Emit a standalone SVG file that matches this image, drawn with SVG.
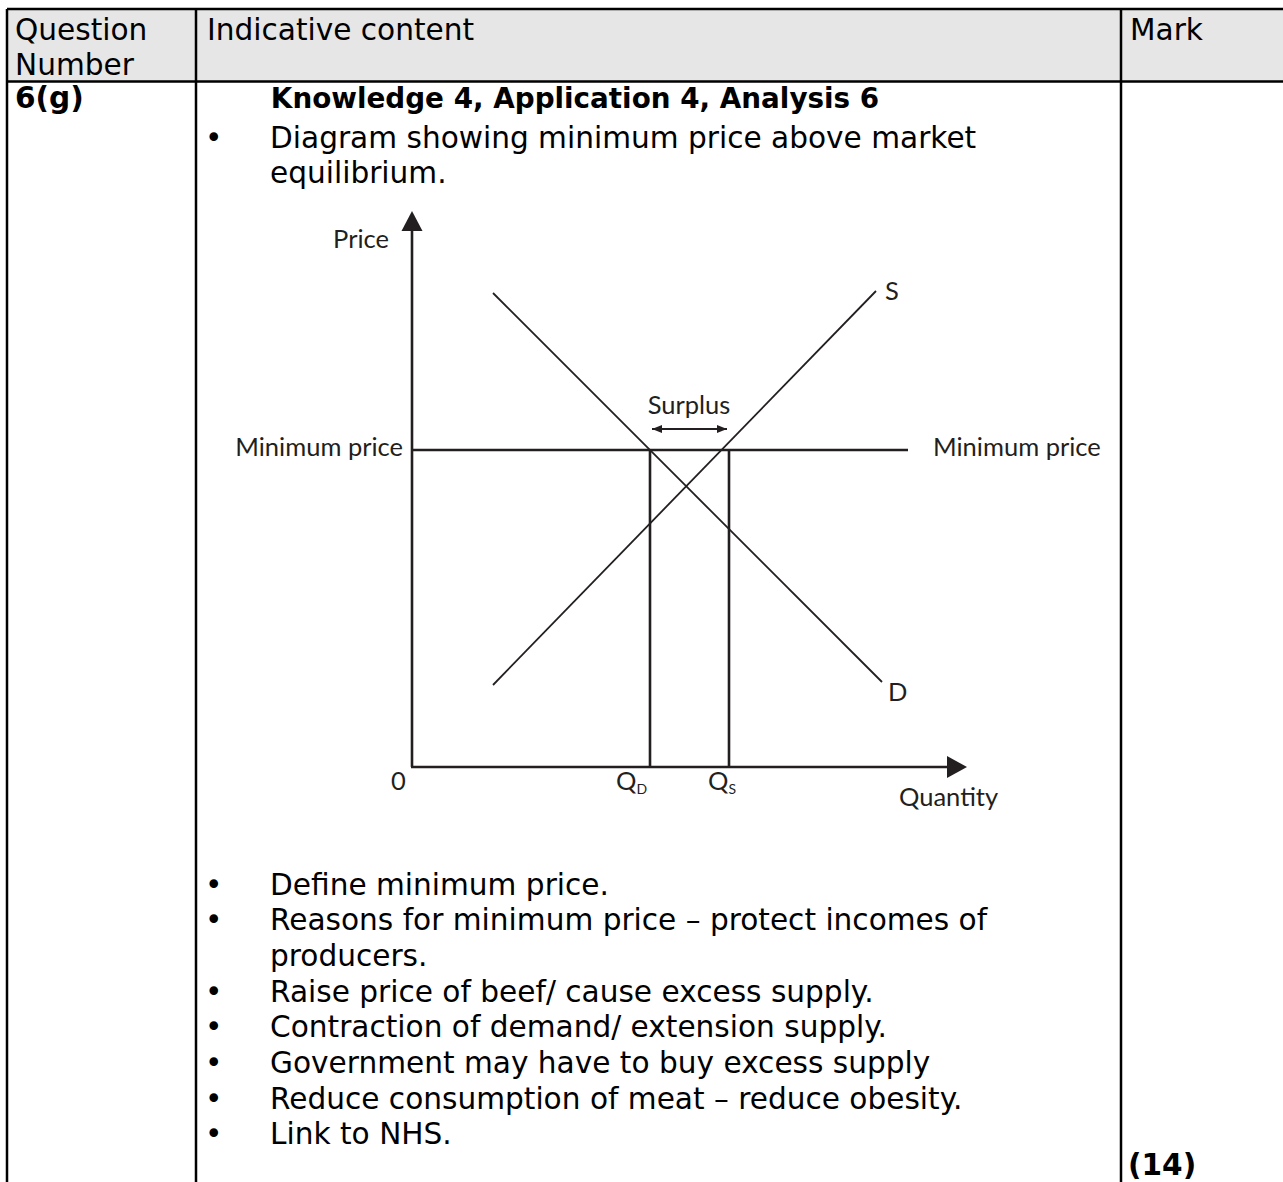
<svg xmlns="http://www.w3.org/2000/svg" width="1283" height="1182" viewBox="0 0 1283 1182">
<defs>
<style>
.t{font-family:"DejaVu Sans",Verdana,sans-serif;font-size:29.6px;fill:#000}
.b{font-weight:bold}
.c{font-family:Lato,"Open Sans",sans-serif;font-size:25.5px;fill:#231f20}
.grid{stroke:#000;stroke-width:2.5;fill:none}
.ax{stroke:#231f20;stroke-width:2.6;fill:none}
.cv{stroke:#231f20;stroke-width:1.8;fill:none}
</style>
<marker id="sa" viewBox="0 0 10 8" refX="10" refY="4" markerWidth="10" markerHeight="8" markerUnits="userSpaceOnUse" orient="auto-start-reverse">
<path d="M0,0 L10,4 L0,8 Z" fill="#231f20"/>
</marker>
</defs>
<rect width="1283" height="1182" fill="#fff"/>
<g id="table">
<rect x="7" y="9" width="1276" height="72" fill="#e6e6e6"/>
<path class="grid" d="M7,9 H1283 M7,81.5 H1283 M7,9 V1182 M196,9 V1182 M1121,9 V1182"/>
</g>
<g id="header">
<text class="t" x="15" y="40">Question</text>
<text class="t" x="15" y="75">Number</text>
<text class="t" x="207" y="40">Indicative content</text>
<text class="t" x="1130" y="40">Mark</text>
</g>
<g id="row">
<text class="t b" x="15" y="108">6(g)</text>
<text class="t b" x="575" y="108" text-anchor="middle" style="font-size:27.8px">Knowledge 4, Application 4, Analysis 6</text>
<text class="t" x="205" y="148">•</text>
<text class="t" x="270" y="148">Diagram showing minimum price above market</text>
<text class="t" x="270" y="183">equilibrium.</text>
<text class="t" x="205" y="895">•</text><text class="t" x="270" y="895">Define minimum price.</text>
<text class="t" x="205" y="930">•</text><text class="t" x="270" y="930">Reasons for minimum price – protect incomes of</text>
<text class="t" x="270" y="966">producers.</text>
<text class="t" x="205" y="1002">•</text><text class="t" x="270" y="1002">Raise price of beef/ cause excess supply.</text>
<text class="t" x="205" y="1037">•</text><text class="t" x="270" y="1037">Contraction of demand/ extension supply.</text>
<text class="t" x="205" y="1073">•</text><text class="t" x="270" y="1073">Government may have to buy excess supply</text>
<text class="t" x="205" y="1109">•</text><text class="t" x="270" y="1109">Reduce consumption of meat – reduce obesity.</text>
<text class="t" x="205" y="1144">•</text><text class="t" x="270" y="1144">Link to NHS.</text>
<text class="t b" x="1128" y="1175">(14)</text>
</g>
<g id="chart">
<path class="ax" d="M412,767 V230"/>
<path d="M412,211 L401.5,231 L422.5,231 Z" fill="#231f20"/>
<path class="ax" d="M411,767 H947"/>
<path d="M967,767 L947,756 L947,778 Z" fill="#231f20"/>
<path class="ax" d="M412,450 H908"/>
<path class="ax" d="M650,450 V767 M729,450 V767"/>
<path class="cv" d="M493,293 L882,682"/>
<path class="cv" d="M493,685 L876,291"/>
<path class="cv" d="M652,429 H727" marker-start="url(#sa)" marker-end="url(#sa)"/>
<text class="c" x="389" y="248" text-anchor="end">Price</text>
<text class="c" x="403" y="456" text-anchor="end">Minimum price</text>
<text class="c" x="933" y="456">Minimum price</text>
<text class="c" x="689" y="414" text-anchor="middle">Surplus</text>
<text class="c" x="885" y="300">S</text>
<text class="c" x="888" y="701">D</text>
<text class="c" x="391" y="790">0</text>
<text class="c" x="616" y="790">Q<tspan font-size="14" dy="4">D</tspan></text>
<text class="c" x="708" y="790">Q<tspan font-size="14" dy="4">S</tspan></text>
<text class="c" x="899" y="806">Quantity</text>
</g>
</svg>
